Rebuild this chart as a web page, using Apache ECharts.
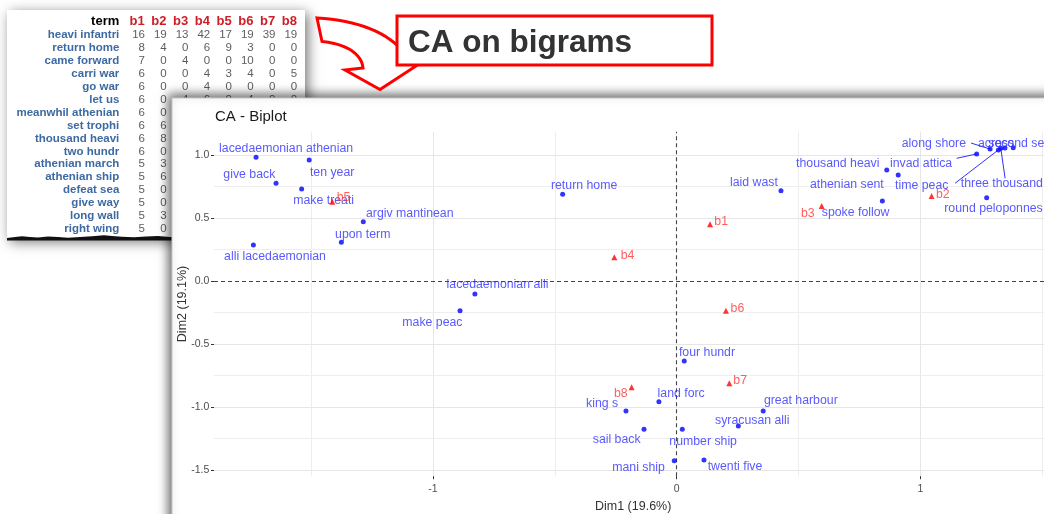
<!DOCTYPE html>
<html><head><meta charset="utf-8">
<script src="https://cdn.jsdelivr.net/npm/echarts@6/dist/echarts.min.js"></script>
<style>html,body{margin:0;padding:0;background:#fff}#c{width:1044px;height:514px}</style>
</head><body><div id="c"></div>
<script>
// ---------- table data ----------
const tableCols = ['b1','b2','b3','b4','b5','b6','b7','b8'];
const tableTerms = ['heavi infantri','return home','came forward','carri war','go war','let us','meanwhil athenian','set trophi','thousand heavi','two hundr','athenian march','athenian ship','defeat sea','give way','long wall','right wing'];
const tableValues = [
  [16,19,13,42,17,19,39,19],
  [8,4,0,6,9,3,0,0],
  [7,0,4,0,0,10,0,0],
  [6,0,0,4,3,4,0,5],
  [6,0,0,4,0,0,0,0],
  [6,0,4,6,0,4,0,0],
  [6,0],[6,6],[6,8],[6,0],[5,3],[5,6],[5,0],[5,0],[5,3],[5,0]
];
// ---------- CA biplot data ----------
const colTerms = ['lacedaemonian athenian','ten year','give back','make treati','argiv mantinean','upon term','alli lacedaemonian','return home','lacedaemonian alli','make peac','laid wast','spoke follow','thousand heavi','athenian sent','invad attica','along shore','time peac','three thousand','across','second sent','round peloponnes','four hundr','land forc','king s','great harbour','sail back','number ship','syracusan alli','mani ship','twenti five'];
const colDim1 = [-1.726,-1.508,-1.644,-1.539,-1.286,-1.376,-1.737,-0.468,-0.828,-0.889,0.428,0.844,0.862,0.909,1.231,1.286,1.320,1.330,1.347,1.381,1.272,0.031,-0.073,-0.208,0.355,-0.134,0.023,0.253,-0.010,0.112];
const colDim2 = [0.983,0.961,0.776,0.731,0.471,0.307,0.286,0.689,-0.103,-0.236,0.717,0.635,0.882,0.842,1.009,1.048,1.041,1.054,1.056,1.059,0.662,-0.635,-0.959,-1.033,-1.033,-1.178,-1.178,-1.152,-1.427,-1.422];
const rowNames = ['b1','b2','b3','b4','b5','b6','b7','b8'];
const rowDim1 = [0.137,1.046,0.595,-0.256,-1.413,0.202,0.216,-0.185];
const rowDim2 = [0.450,0.675,0.596,0.188,0.630,-0.236,-0.813,-0.844];
const xTicks = [-1,0,1];
const yTicks = [-1.5,-1,-0.5,0,0.5,1];
const xMinor = [-1.5,-0.5,0.5,1.5];
const yMinor = [-1.25,-0.75,-0.25,0.25,0.75];

// ---------- label placement (pixel offsets: left edge, vertical centre) ----------
const labelOffsets = {
  'lacedaemonian athenian':[-37,-8.3],'ten year':[0.7,12.3],'give back':[-52.7,-8.3],'make treati':[-8.4,12],
  'argiv mantinean':[2.7,-8.4],'upon term':[-6.3,-8],'alli lacedaemonian':[-29.3,11.7],'return home':[-11.7,-8.6],
  'lacedaemonian alli':[-28.3,-9],'make peac':[-57.7,11.6],'laid wast':[-51,-8.4],'spoke follow':[-60.6,11.3],
  'thousand heavi':[-90.7,-6],'athenian sent':[-88.3,9.3],'invad attica':[-86.7,9.3],'along shore':[-88.3,-5],
  'time peac':[-103.3,35.7],'three thousand':[-40,35],'across':[-27,-4],'second sent':[-25,-3.7],
  'round peloponnes':[-42.4,11.3],'four hundr':[-5.3,-8.3],'land forc':[-1.3,-8.4],'king s':[-40,-7.7],
  'great harbour':[0.7,-10.3],'sail back':[-51.3,10.7],'number ship':[-13,12],'syracusan alli':[-23.3,-5],
  'mani ship':[-62,7],'twenti five':[3.7,6.7],
  'b1':[4.3,-2.6],'b2':[4.3,-1.7],'b3':[-20.7,8],'b4':[6.4,-1.6],'b5':[4.4,-4],'b6':[4.7,-2.4],'b7':[4,-2.6],'b8':[-17.7,6.7]
};
const segmentEnds = {'invad attica':[-20,4.3],'time peac':[-43.3,33.3],'three thousand':[4.3,30],'along shore':[-19,-6]};
const segNames = Object.keys(segmentEnds);

const FONT = 'Liberation Sans';
const BLUE_TXT = '#3030ff', RED_TXT = '#ff3535';

const tableData = [];
tableValues.forEach((row, r) => row.forEach((v, c) => tableData.push([c, r, v])));

function ptLabel(color){
  return {show:true, position:'inside', align:'left', verticalAlign:'middle', formatter:'{b}',
          color:color, fontSize:12.3, fontFamily:FONT};
}

const gridLines = [];
xTicks.filter(v=>v!==0).forEach(v=>gridLines.push({xAxis:v, lineStyle:{color:'#e6e6e6', width:1, type:'solid'}}));
xMinor.forEach(v=>gridLines.push({xAxis:v, lineStyle:{color:'#eeeeee', width:1, type:'solid'}}));
yTicks.filter(v=>v!==0).forEach(v=>gridLines.push({yAxis:v, lineStyle:{color:'#e6e6e6', width:1, type:'solid'}}));
yMinor.forEach(v=>gridLines.push({yAxis:v, lineStyle:{color:'#eeeeee', width:1, type:'solid'}}));
gridLines.push({xAxis:0, lineStyle:{color:'#444', width:1.1, type:[4,3]}});
gridLines.push({yAxis:0, lineStyle:{color:'#444', width:1.1, type:[4,3]}});

const tornTop = [[7,238],[15,237],[22,236.3],[30,237],[38,237.5],[48,236.5],[58,237],[68,237.8],[80,237],[92,236.3],[104,235.2],[112,236],[122,236.8],[134,237.3],[146,236.6],[158,236],[170,237],[185,237.5],[200,236.5],[220,237],[240,236.2],[260,237],[280,236.5],[305,237],[305,240.5],[7,240.5]];

// decorative curved arrow outline (cubic bezier sampled into a polygon)
function bez(p0,p1,p2,p3,n){
  const out=[];
  for(let k=0;k<=n;k++){const t=k/n,u=1-t;
    out.push([u*u*u*p0[0]+3*u*u*t*p1[0]+3*u*t*t*p2[0]+t*t*t*p3[0],
              u*u*u*p0[1]+3*u*u*t*p1[1]+3*u*t*t*p2[1]+t*t*t*p3[1]]);}
  return out;
}
const arrowPts = [].concat(
  bez([317,18],[357,20],[389,33],[403,52],16),
  [[410,64],[416,66],[380,89.5],[345,70],[363,68]],
  bez([363,68],[362,55],[348,44],[322,41.5],12)
);

const chart = echarts.init(document.getElementById('c'), null, {renderer:'canvas'});
chart.setOption({
  animation:false,
  backgroundColor:'#ffffff',
  textStyle:{fontFamily:FONT},
  grid:[
    {left:126.3, top:28.5, width:174, height:206.9, outerBoundsMode:'none', containLabel:false},
    {left:214, top:131.7, width:838.3, height:344.5, outerBoundsMode:'none', containLabel:false}
  ],
  xAxis:[
    {type:'category', gridIndex:0, data:tableCols, position:'top', z:1,
     axisLine:{show:false}, axisTick:{show:false}, splitLine:{show:false},
     axisLabel:{interval:0, color:'#cc1f27', fontWeight:'bold', fontSize:13, margin:6.8, verticalAlign:'middle'}},
    {type:'value', gridIndex:1, min:-1.8986, max:1.5413, z:12,
     axisLine:{show:false, onZero:false}, splitLine:{show:false},
     axisTick:{show:true, customValues:xTicks, length:3, lineStyle:{color:'#333'}},
     axisLabel:{customValues:xTicks, color:'#4d4d4d', fontSize:10.5, margin:7},
     name:'Dim1 (19.6%)', nameLocation:'middle', nameGap:24, nameMoveOverlap:false,
     nameTextStyle:{color:'#333', fontSize:12.5}}
  ],
  yAxis:[
    {type:'category', gridIndex:0, data:tableTerms, inverse:true, z:1,
     axisLine:{show:false}, axisTick:{show:false}, splitLine:{show:false},
     axisLabel:{interval:0, color:'#3d6aa3', fontWeight:'bold', fontSize:11.5, margin:7, align:'right'}},
    {type:'value', gridIndex:1, min:-1.5504, max:1.1859, z:12,
     axisLine:{show:false, onZero:false}, splitLine:{show:false},
     axisTick:{show:true, customValues:yTicks, length:3, lineStyle:{color:'#333'}},
     axisLabel:{customValues:yTicks, color:'#4d4d4d', fontSize:10.5, margin:4.7, formatter:v=>v.toFixed(1)},
     name:'Dim2 (19.1%)', nameLocation:'middle', nameGap:25, nameMoveOverlap:false,
     nameTextStyle:{color:'#333', fontSize:12.5}}
  ],
  series:[
    {type:'scatter', xAxisIndex:0, yAxisIndex:0, z:2, silent:true, symbolSize:1, itemStyle:{color:'rgba(0,0,0,0)'},
     data:tableData,
     label:{show:true, position:'inside', align:'right', verticalAlign:'middle', offset:[7.8,0],
            formatter:p=>String(p.value[2]), color:'#333', fontSize:11.5}},
    {type:'scatter', xAxisIndex:1, yAxisIndex:1, z:8, silent:true, data:[],
     markLine:{silent:true, symbol:['none','none'], label:{show:false}, animation:false, data:gridLines}},
    {type:'custom', xAxisIndex:1, yAxisIndex:1, z:9, silent:true,
     data:segNames.map(n=>{const i=colTerms.indexOf(n); return [colDim1[i], colDim2[i]];}),
     renderItem:(params, api)=>{
       const p = api.coord([api.value(0), api.value(1)]);
       const e = segmentEnds[segNames[params.dataIndex]];
       return {type:'line', shape:{x1:p[0], y1:p[1], x2:p[0]+e[0], y2:p[1]+e[1]}, style:{stroke:BLUE_TXT, lineWidth:1}};
     }},
    {type:'scatter', xAxisIndex:1, yAxisIndex:1, z:10, silent:true, symbol:'circle', symbolSize:5,
     itemStyle:{color:'#0000ff'}, clip:false,
     data:colTerms.map((n,i)=>({name:n, value:[colDim1[i], colDim2[i]], label:{offset:labelOffsets[n]}})),
     label:ptLabel(BLUE_TXT)},
    {type:'scatter', xAxisIndex:1, yAxisIndex:1, z:11, silent:true, symbol:'triangle', symbolSize:6,
     itemStyle:{color:'#ff0000'}, clip:false,
     data:rowNames.map((n,i)=>({name:n, value:[rowDim1[i], rowDim2[i]], label:{offset:labelOffsets[n]}})),
     label:ptLabel(RED_TXT)}
  ],
  graphic:[
    {type:'rect', z:0, shape:{x:7, y:10, width:298, height:229},
     style:{fill:'#fff', shadowBlur:12, shadowColor:'rgba(0,0,0,0.55)', shadowOffsetX:3, shadowOffsetY:3}},
    {type:'polygon', z:1, shape:{points:tornTop}, style:{fill:'#111'}},
    {type:'text', z:2, style:{text:'term', x:119.3, y:21.7, align:'right', verticalAlign:'middle',
      fill:'#000', font:'bold 13px "Liberation Sans"'}},
    {type:'rect', z:5, shape:{x:172, y:98, width:900, height:450},
     style:{fill:'#fff', stroke:'#c8c8c8', lineWidth:1, shadowBlur:10, shadowColor:'rgba(0,0,0,0.6)', shadowOffsetX:-3, shadowOffsetY:-3}},
    {type:'text', z:20, style:{text:'CA - Biplot', x:215, y:116.7, verticalAlign:'middle',
      fill:'#1a1a1a', font:'15px "Liberation Sans"'}},
    {type:'polygon', z:30, shape:{points:arrowPts},
     style:{fill:'#fff', stroke:'#ff0000', lineWidth:3, lineJoin:'miter'}},
    {type:'rect', z:31, shape:{x:397, y:16, width:315, height:49},
     style:{fill:'#fff', stroke:'#ff0000', lineWidth:3}},
    {type:'text', z:32, style:{text:'CA on bigrams', x:408, y:43, verticalAlign:'middle',
      fill:'#333', font:'bold 31.5px "Liberation Sans"'}}
  ]
});
</script></body></html>
